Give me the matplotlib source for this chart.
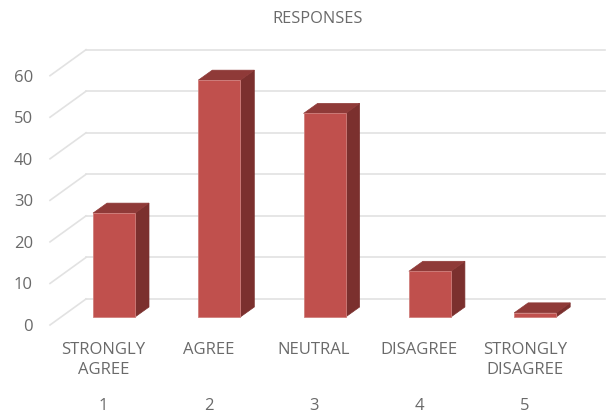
import matplotlib
matplotlib.use('Agg')
from matplotlib import pyplot as plt

categories = ['STRONGLY\nAGREE', 'AGREE', 'NEUTRAL', 'DISAGREE', 'STRONGLY\nDISAGREE']
numbers = ['1', '2', '3', '4', '5']
values = [25, 57, 49, 11, 1]
yticks = [0, 10, 20, 30, 40, 50, 60]

plt.rcParams['font.family'] = ['Open Sans', 'DejaVu Sans']

# pixel scale of the chart: 105.3 px per category, 4.155 px per response
px_x = 105.3
px_y = 4.155
x0 = 114.0   # centre of first bar
y0 = 317.0   # bar baseline
W, H = 608, 416

front = '#c0504d'
side = '#7b302e'
top = '#8f3a38'
edge = '#d07f7c'
grid = '#e2e2e2'
text = '#6a6a6a'

bar_w = 42.0 / px_x
bar_dx = 14.0 / px_x
bar_dy = 10.0 / px_y

fig = plt.figure(figsize=(W / 100, H / 100), dpi=100)
ax = fig.add_axes([0, 0, 1, 1])
ax.set_xlim(1 - x0 / px_x, 1 + (W - x0) / px_x)
ax.set_ylim((y0 - H) / px_y, y0 / px_y)
ax.axis('off')

# back wall and floor grid
wall_l = 1 + (86 - x0) / px_x
wall_r = 1 + (605 - x0) / px_x
wall_front = 1 + (50 - x0) / px_x
back_up = 18.0 / px_y
front_down = 8.0 / px_y
for t in yticks:
    ax.plot([wall_l, wall_r], [t + back_up, t + back_up], color=grid, lw=1.2, zorder=1)
    ax.plot([wall_front, wall_l], [t - front_down, t + back_up], color=grid, lw=1.2, zorder=1)

# bars with fake 3d depth
for i, v in enumerate(values):
    x = i + 1
    l = x - bar_w / 2
    r = x + bar_w / 2
    ax.fill([r, r + bar_dx, r + bar_dx, r], [0, bar_dy, v + bar_dy, v], color=side, lw=0.5, zorder=2)
    ax.fill([l, r, r + bar_dx, l + bar_dx], [v, v, v + bar_dy, v + bar_dy], color=top, lw=0.5, zorder=2)
    ax.bar(x, v, width=bar_w, color=front, edgecolor=edge, linewidth=0.6, zorder=3)

# value labels
label_x = 1 + (33 - x0) / px_x
label_down = 10.0 / px_y
for t in yticks:
    ax.text(label_x, t - label_down, str(t), ha='right', va='center', fontsize=12, color=text)

# category names and numbers
name_shift = -10.5 / px_x
name_y = (y0 - 342) / px_y
num_y = (y0 - 406) / px_y
for i, (c, n) in enumerate(zip(categories, numbers)):
    ax.text(i + 1 + name_shift, name_y, c, ha='center', va='top', fontsize=12, color=text, linespacing=1.35)
    ax.text(i + 1 + name_shift, num_y, n, ha='center', va='center', fontsize=12, color=text)

fig.text(318 / W, 1 - 19 / H, 'RESPONSES', ha='center', va='center', fontsize=11.8, color=text)

fig.savefig('out.png', dpi=100)
